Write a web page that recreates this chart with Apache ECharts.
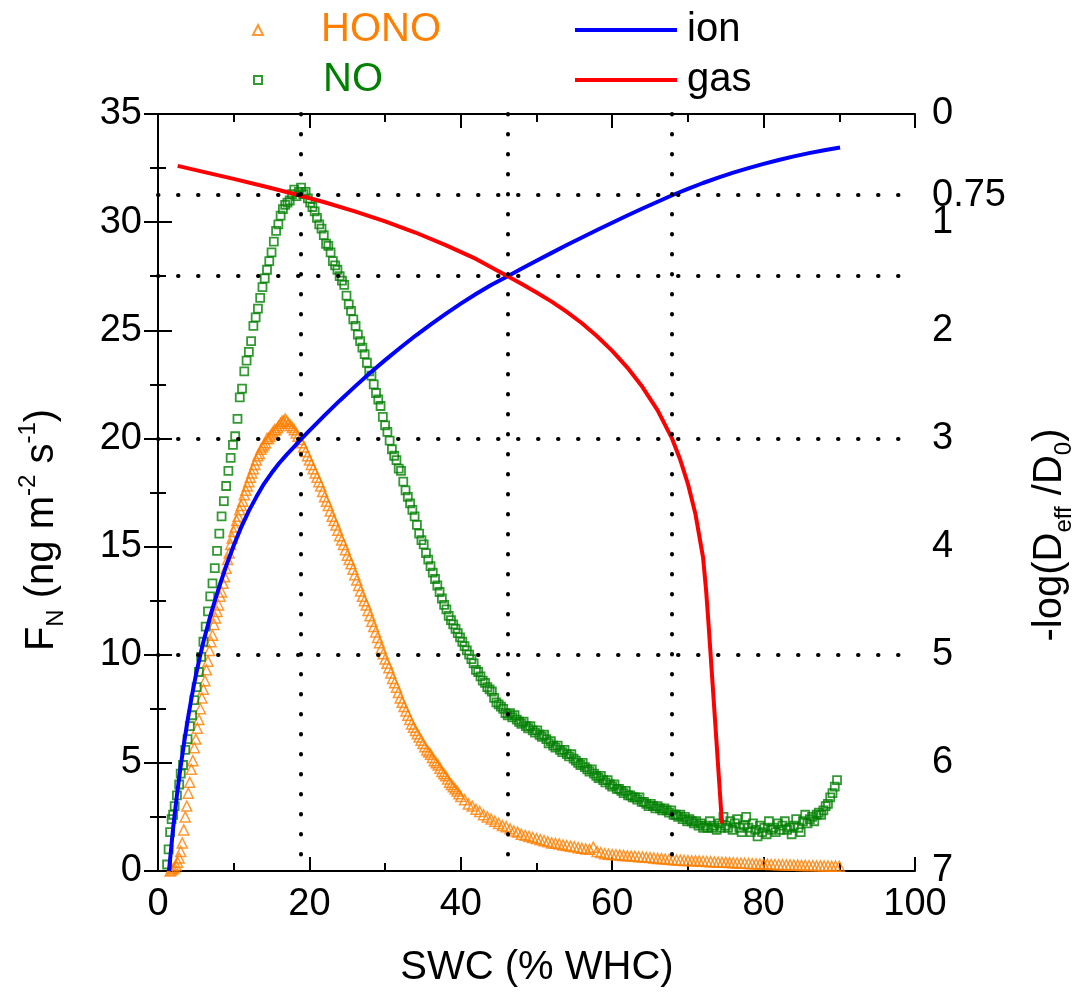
<!DOCTYPE html>
<html>
<head>
<meta charset="utf-8">
<script src="https://cdn.jsdelivr.net/npm/echarts@6/dist/echarts.min.js"></script>
<style>
html,body{margin:0;padding:0;background:#fff;}
#chart{width:1084px;height:999px;}
</style>
</head>
<body>
<div id="chart"></div>
<script>
// ---- data ----
const xTicks = [0, 20, 40, 60, 80, 100];
const leftTicks = [0, 5, 10, 15, 20, 25, 30, 35];
const rightLabels = [0, 0.75, 1, 2, 3, 4, 5, 6, 7];
const guideX = [18.8, 46.2, 67.9];
const guideRight = [0.75, 1.5, 3, 5];

// HONO flux (left axis), [SWC, F]
const hono = [
[1.6,0.0],[1.8,0.05],[2.0,0.1],[2.2,0.15],[2.4,0.25],[2.6,0.4],[2.8,0.6],[3.0,0.9],[3.2,1.3],[3.4,1.9],
[3.6,2.5],[3.8,3.0],[4.0,3.6],[4.2,4.1],[4.4,4.7],[4.6,5.1],[4.8,5.7],[5.0,6.1],[5.2,6.6],[5.4,7.0],
[5.6,7.5],[5.8,8.0],[6.0,8.4],[6.2,8.8],[6.4,9.3],[6.6,9.7],[6.8,10.2],[7.0,10.6],[7.2,10.9],[7.4,11.4],
[7.6,11.7],[7.8,12.0],[8.0,12.3],[8.2,12.7],[8.4,12.9],[8.6,13.3],[8.8,13.6],[9.0,14.0],[9.2,14.4],[9.4,14.7],
[9.6,15.1],[9.8,15.4],[10.0,15.7],[10.2,15.9],[10.4,16.2],[10.6,16.4],[10.8,16.7],[11.0,16.9],[11.2,17.1],[11.4,17.4],
[11.6,17.6],[11.8,17.8],[12.0,18.0],[12.2,18.2],[12.4,18.4],[12.6,18.6],[12.8,18.8],[13.0,19.0],[13.2,19.2],[13.4,19.3],
[13.6,19.5],[13.8,19.6],[14.0,19.7],[14.2,19.8],[14.4,20.0],[14.6,20.0],[14.8,20.1],[15.0,20.2],[15.2,20.3],[15.4,20.4],
[15.6,20.4],[15.8,20.5],[16.0,20.6],[16.2,20.7],[16.4,20.8],[16.6,20.8],[16.8,20.9],[17.0,20.8],
[17.25,20.7],[17.5,20.6],[17.75,20.5],[18.0,20.4],[18.25,20.25],[18.5,20.1],[18.75,19.95],[19.0,19.8],[19.25,19.6],[19.5,19.4],
[19.75,19.2],[20.0,19.0],[20.25,18.8],[20.5,18.6],[20.75,18.4],[21.0,18.2],[21.25,18.0],[21.5,17.8],[21.75,17.55],[22.0,17.3],
[22.25,17.1],[22.5,16.9],[22.75,16.65],[23.0,16.4],[23.25,16.2],[23.5,16.0],[23.75,15.75],[24.0,15.5],[24.25,15.3],[24.5,15.1],
[24.75,14.85],[25.0,14.6],[25.25,14.4],[25.5,14.2],[25.75,13.95],[26.0,13.7],[26.25,13.45],[26.5,13.2],[26.75,12.95],[27.0,12.7],
[27.25,12.5],[27.5,12.3],[27.75,12.05],[28.0,11.8],[28.25,11.55],[28.5,11.3],[28.75,11.05],[29.0,10.8],[29.25,10.55],[29.5,10.3],
[29.75,10.05],[30.0,9.8],[30.25,9.6],[30.5,9.4],[30.75,9.15],[31.0,8.9],[31.25,8.7],[31.5,8.5],[31.75,8.25],[32.0,8.0],
[32.25,7.8],[32.5,7.6],[32.75,7.4],[33.0,7.2],[33.25,7.0],[33.5,6.8],[33.75,6.65],[34.0,6.5],[34.25,6.35],[34.5,6.2],
[34.75,6.05],[35.0,5.9],[35.25,5.75],[35.5,5.6],[35.75,5.5],[36.0,5.4],[36.25,5.25],[36.5,5.1],[36.75,5.0],[37.0,4.9],
[37.25,4.75],[37.5,4.6],[37.75,4.5],[38.0,4.4],[38.25,4.25],[38.5,4.1],[38.75,4.0],[39.0,3.9],[39.25,3.8],[39.5,3.7],
[39.75,3.57],[40.0,3.45],
[40.5,3.3],[41.0,3.1],[41.5,3.0],[42.0,2.85],[42.5,2.75],[43.0,2.6],[43.5,2.5],[44.0,2.4],[44.5,2.3],[45.0,2.2],
[45.5,2.1],[46.0,2.05],[46.5,1.95],[47.0,1.85],[47.5,1.8],[48.0,1.7],[48.5,1.65],[49.0,1.6],[49.5,1.55],[50.0,1.5],
[50.5,1.45],[51.0,1.4],[51.5,1.35],[52.0,1.3],[52.5,1.28],[53.0,1.25],[53.5,1.2],[54.0,1.18],[54.5,1.15],[55.0,1.12],
[55.5,1.08],[56.0,1.05],[56.5,1.02],[57.0,1.0],[57.5,1.1],[58.0,0.9],[58.5,0.85],[59.0,0.8],[59.5,0.78],[60.0,0.76],
[60.5,0.75],[61.0,0.74],[61.5,0.72],[62.0,0.7],[62.5,0.69],[63.0,0.68],[63.5,0.66],[64.0,0.65],[64.5,0.63],[65.0,0.62],
[65.5,0.6],[66.0,0.58],[66.5,0.57],[67.0,0.55],[67.5,0.54],[68.0,0.52],[68.5,0.51],[69.0,0.5],[69.5,0.49],[70.0,0.48],
[70.5,0.47],[71.0,0.47],[71.5,0.46],[72.0,0.45],[72.5,0.44],[73.0,0.43],[73.5,0.42],[74.0,0.41],[74.5,0.4],[75.0,0.4],
[75.5,0.39],[76.0,0.38],[76.5,0.37],[77.0,0.36],[77.5,0.36],[78.0,0.35],[78.5,0.34],[79.0,0.33],[79.5,0.32],[80.0,0.31],
[80.5,0.31],[81.0,0.3],[81.5,0.3],[82.0,0.29],[82.5,0.29],[83.0,0.28],[83.5,0.28],[84.0,0.27],[84.5,0.27],[85.0,0.26],
[85.5,0.26],[86.0,0.25],[86.5,0.25],[87.0,0.24],[87.5,0.24],[88.0,0.23],[88.5,0.23],[89.0,0.22],[89.5,0.22],[90.0,0.22]
];

// NO flux (left axis), [SWC, F]
const no = [
[1.2,0.3],[1.4,1.0],[1.6,1.8],[1.8,2.4],[2.0,2.6],[2.2,3.0],[2.5,3.5],[2.8,4.0],[3.0,4.5],[3.3,4.9],
[3.6,5.6],[3.9,6.1],[4.2,6.7],[4.5,7.2],[4.8,7.9],[5.1,8.5],[5.4,9.2],[5.7,9.9],[6.0,10.6],[6.3,11.3],
[6.6,12.0],[6.9,12.7],[7.2,13.3],[7.5,14.0],[7.8,14.8],[8.1,15.6],[8.4,16.4],[8.7,17.1],[9.0,17.8],[9.3,18.5],
[9.6,19.1],[9.9,19.7],[10.2,20.1],[10.5,20.9],[10.8,21.9],[11.1,22.3],[11.4,23.1],[11.7,23.6],[12.0,24.0],[12.3,24.5],
[12.6,25.2],[12.9,25.6],[13.2,26.0],[13.5,26.5],[13.8,27.0],[14.1,27.4],[14.4,27.8],[14.7,28.2],[15.0,28.6],[15.3,29.1],
[15.6,29.6],[15.9,29.9],[16.2,30.3],[16.5,30.6],[16.8,30.8],[17.1,30.9],[17.4,31.0],[17.7,31.3],[18.0,31.5],[18.3,31.2],
[18.6,31.4],[18.9,31.6],[19.2,31.3],[19.5,31.4],[19.8,31.1],[20.1,30.9],[20.4,30.7],[20.7,30.5],[21.0,30.2],[21.3,29.9],
[21.6,29.7],[21.9,29.4],[22.2,29.0],[22.5,28.9],[22.8,28.6],[23.1,28.2],[23.4,28.0],[23.7,27.8],[24.0,27.5],[24.3,27.3],
[24.6,27.1],[24.9,26.6],[25.2,26.2],[25.5,25.9],[25.8,25.5],[26.1,25.2],[26.4,24.8],[26.7,24.5],[27.0,24.2],[27.3,23.9],
[27.6,23.5],[27.9,23.1],[28.2,22.9],[28.5,22.5],[28.8,22.1],[29.1,21.8],[29.4,21.5],[29.7,21.0],[30.0,20.6],[30.3,20.3],
[30.6,19.9],[30.9,19.5],[31.2,19.2],[31.5,19.0],[31.8,18.6],[32.1,18.5],[32.4,18.0],[32.7,17.6],[33.0,17.3],[33.3,17.0],
[33.6,16.7],[33.9,16.4],[34.2,16.0],[34.5,15.6],[34.8,15.3],[35.1,15.1],[35.4,14.7],[35.7,14.4],[36.0,14.1],[36.3,13.8],
[36.6,13.5],[36.9,13.2],[37.2,12.9],[37.5,12.6],[37.8,12.3],[38.1,12.1],[38.4,11.8],[38.7,11.6],[39.0,11.4],[39.3,11.2],
[39.6,11.0],[39.9,10.8],[40.2,10.6],[40.5,10.4],[40.8,10.2],[41.1,10.0],[41.4,9.8],[41.7,9.6],[42.0,9.3],[42.3,9.2],
[42.6,9.0],[42.9,8.8],[43.2,8.7],[43.5,8.5],[43.8,8.4],[44.1,8.3],[44.4,8.0],[44.7,7.8],[45.0,7.7],[45.3,7.6],
[45.6,7.5],[45.9,7.3],[46.2,7.2],[46.5,7.3],[46.8,7.1],[47.1,7.2],[47.4,7.0],[47.7,6.9],[48.0,6.8],[48.3,6.9],
[48.6,6.7],[48.9,6.6],[49.2,6.7],[49.5,6.5],[49.8,6.4],[50.1,6.5],[50.4,6.3],[50.7,6.2],[51.0,6.3],[51.3,6.1],
[51.6,5.9],[51.9,6.0],[52.2,5.8],[52.5,5.7],[52.8,5.8],[53.1,5.6],[53.4,5.5],[53.7,5.6],[54.0,5.4],[54.3,5.3],
[54.6,5.4],[54.9,5.2],[55.2,5.1],[55.5,5.0],[55.8,4.9],[56.1,5.0],[56.4,4.8],[56.7,4.7],[57.0,4.6],[57.3,4.7],
[57.6,4.5],[57.9,4.4],[58.2,4.3],[58.5,4.4],[58.8,4.2],[59.1,4.1],[59.4,4.2],[59.7,4.0],[60.0,3.9],[60.3,4.0],
[60.6,3.8],[60.9,3.8],[61.2,3.7],[61.5,3.6],[61.8,3.7],[62.1,3.5],[62.4,3.5],[62.7,3.4],[63.0,3.4],[63.3,3.3],
[63.6,3.4],[63.9,3.2],[64.2,3.2],[64.5,3.1],[64.8,3.0],[65.1,3.1],[65.4,3.0],[65.7,2.9],[66.0,3.0],[66.3,2.9],
[66.6,2.8],[66.9,2.9],[67.2,2.8],[67.5,2.7],[67.8,2.8],[68.1,2.6],[68.4,2.6],[68.7,2.5],[69.0,2.6],[69.3,2.4],
[69.6,2.5],[69.9,2.3],[70.2,2.4],[70.5,2.3],[70.8,2.2],[71.1,2.3],[71.4,2.1],[71.7,2.2],[72.0,2.0],[72.3,2.1],
[72.6,2.0],[72.9,2.3],[73.2,2.0],[73.5,2.1],[73.8,1.9],[74.1,2.2],[74.4,2.0],[74.7,2.5],[75.0,2.1],[75.3,2.0],
[75.6,2.3],[75.9,1.9],[76.2,2.2],[76.5,2.4],[76.8,2.0],[77.1,1.8],[77.4,2.1],[77.7,2.5],[78.0,2.0],[78.3,1.8],
[78.6,2.2],[78.9,1.9],[79.2,1.6],[79.5,2.1],[79.8,1.8],[80.1,2.0],[80.4,1.7],[80.7,2.3],[81.0,1.9],[81.3,2.0],
[81.6,1.8],[81.9,2.2],[82.2,1.9],[82.5,2.1],[82.8,2.3],[83.1,1.9],[83.4,2.0],[83.7,1.7],[84.0,2.1],[84.3,2.4],
[84.6,2.0],[84.9,1.8],[85.2,2.3],[85.5,2.6],[85.8,2.2],[86.1,2.4],[86.4,2.5],[86.7,2.3],[87.0,2.6],[87.3,2.7],
[87.6,2.6],[87.9,2.8],[88.2,3.0],[88.5,3.1],[88.8,3.4],[89.1,3.6],[89.4,3.9],[89.7,4.2]
];

// ion diffusion curve (right axis, -log(Deff/D0))
const ion = [
[1.45,7.0],[2,6.6],[2.5,6.3],[3,6.03],[3.5,5.79],[4,5.57],[4.5,5.37],[5,5.19],[5.5,5.03],[6,4.88],
[7,4.62],[8,4.39],[9,4.18],[10,3.99],[11,3.82],[12,3.67],[13,3.54],[14,3.42],[15,3.32],[16,3.23],
[17,3.15],[18,3.075],[19,3.0],[20,2.928],[22,2.787],[24,2.651],[26,2.521],[28,2.396],[30,2.276],[32,2.161],
[34,2.051],[36,1.947],[38,1.848],[40,1.754],[42,1.665],[44,1.581],[46.2,1.5],[48,1.432],[50,1.357],[52,1.284],
[54,1.212],[56,1.142],[58,1.073],[60,1.005],[62,0.939],[64,0.874],[66,0.811],[68,0.749],[70,0.692],[72,0.638],
[74,0.588],[76,0.542],[78,0.5],[80,0.461],[82,0.425],[84,0.392],[86,0.362],[88,0.335],[90.1,0.31]
];

// gas diffusion curve (right axis)
const gas = [
[2.6,0.48],[6,0.535],[10,0.6],[14,0.668],[18,0.74],[22,0.816],[26,0.9],[30,0.992],[34,1.096],[38,1.212],
[42,1.34],[46.2,1.5],[48,1.57],[50,1.65],[52,1.735],[54,1.83],[56,1.935],[58,2.055],[60,2.19],[62,2.345],
[64,2.525],[66,2.74],[67.9,3.0],[69,3.2],[70,3.42],[71,3.7],[72,4.1],[72.4,4.4],[72.7,4.69],[73.6,5.62],
[74.5,6.56]
];

// ---- chart ----
const FONT = '"Liberation Sans", Arial, sans-serif';
const ORANGE = '#FF8000', GREEN = '#008000', BLUE = '#0000FF', RED = '#FF0000';
const chart = echarts.init(document.getElementById('chart'), null, {renderer: 'canvas'});

const axisLineStyle = {show: true, lineStyle: {color: '#000', width: 2}};
const tickStyle = () => ({show: true, inside: true, length: 14, lineStyle: {color: '#000', width: 2}});
const minorStyle = () => ({show: true, splitNumber: 2, length: 8, lineStyle: {color: '#000', width: 2}});
const labelStyle = {color: '#000', fontSize: 38, fontFamily: FONT};

const legendBase = {
  orient: 'horizontal', selectedMode: false, padding: 0,
  textStyle: {fontSize: 40, fontFamily: FONT, color: '#000', lineHeight: 40}
};

const option = {
  animation: false,
  backgroundColor: '#fff',
  grid: {left: 158, right: 169, top: 114, bottom: 128, containLabel: false},
  legend: [
    Object.assign({}, legendBase, {left: 252, top: 10, itemWidth: 10, itemHeight: 10,
      data: [{name: 'HONO', icon: 'triangle', textStyle: {color: ORANGE, padding: [0,0,0,53]}}]}),
    Object.assign({}, legendBase, {left: 253, top: 60, itemWidth: 8, itemHeight: 8,
      data: [{name: 'NO', icon: 'rect', textStyle: {color: GREEN, padding: [0,0,0,56]}}]}),
    Object.assign({}, legendBase, {left: 573, top: 10, itemWidth: 102, itemHeight: 14,
      lineStyle: {width: 4}, itemStyle: {opacity: 0},
      data: [{name: 'ion', textStyle: {color: '#000', padding: [0,0,0,5]}}]}),
    Object.assign({}, legendBase, {left: 573, top: 60, itemWidth: 102, itemHeight: 14,
      lineStyle: {width: 4}, itemStyle: {opacity: 0},
      data: [{name: 'gas', textStyle: {color: '#000', padding: [0,0,0,5]}}]})
  ],
  xAxis: [
    {type: 'value', position: 'bottom', min: 0, max: 100, interval: 20,
     axisLine: axisLineStyle, axisTick: tickStyle(), minorTick: minorStyle(),
     splitLine: {show: false},
     axisLabel: Object.assign({}, labelStyle, {margin: 15, customValues: xTicks})},
    {type: 'value', position: 'top', min: 0, max: 100, interval: 20,
     axisLine: axisLineStyle, axisTick: tickStyle(), minorTick: minorStyle(),
     splitLine: {show: false}, axisLabel: {show: false}}
  ],
  yAxis: [
    {type: 'value', position: 'left', min: 0, max: 35, interval: 5,
     axisLine: axisLineStyle, axisTick: tickStyle(), minorTick: minorStyle(),
     splitLine: {show: false},
     axisLabel: Object.assign({}, labelStyle, {margin: 16, customValues: leftTicks})},
    {type: 'value', position: 'right', min: 0, max: 7, interval: 1, inverse: true,
     axisLine: axisLineStyle, axisTick: tickStyle(), minorTick: minorStyle(),
     splitLine: {show: false},
     axisLabel: Object.assign({}, labelStyle, {margin: 17, customValues: rightLabels,
       formatter: v => String(v)})}
  ],
  series: [
    {name: 'HONO', type: 'scatter', xAxisIndex: 0, yAxisIndex: 0, data: hono,
     symbol: 'triangle', symbolSize: 10, z: 2,
     itemStyle: {color: 'rgba(0,0,0,0)', borderColor: ORANGE, borderWidth: 1.5}},
    {name: 'NO', type: 'scatter', xAxisIndex: 0, yAxisIndex: 0, data: no,
     symbol: 'rect', symbolSize: 8, z: 3,
     itemStyle: {color: 'rgba(0,0,0,0)', borderColor: GREEN, borderWidth: 1.8}},
    {name: 'ion', type: 'line', xAxisIndex: 0, yAxisIndex: 1, data: ion,
     symbol: 'none', smooth: false, z: 4,
     lineStyle: {color: BLUE, width: 4, join: 'round'}, itemStyle: {color: BLUE}},
    {name: 'gas', type: 'line', xAxisIndex: 0, yAxisIndex: 1, data: gas,
     symbol: 'none', smooth: false, z: 5,
     lineStyle: {color: RED, width: 4, join: 'round'}, itemStyle: {color: RED},
     markLine: {
       silent: true, symbol: 'none', animation: false, z: 10,
       label: {show: false},
       lineStyle: {color: '#000', width: 4, type: [0.5, 19.5], cap: 'round'},
       emphasis: {disabled: true},
       data: guideX.map(v => ({xAxis: v})).concat(guideRight.map(v => ({yAxis: v})))
     }}
  ],
  graphic: [
    {type: 'text', x: 42, y: 530, rotation: Math.PI / 2,
     style: {
       text: '{a|F}{b|N}{a| (ng m}{c|-2}{a| s}{c|-1}{a|)}',
       align: 'center', verticalAlign: 'middle',
       rich: {
         a: {fontSize: 40, fontFamily: FONT, fill: '#000', lineHeight: 52},
         b: {fontSize: 24, fontFamily: FONT, fill: '#000', lineHeight: 52, verticalAlign: 'bottom'},
         c: {fontSize: 24, fontFamily: FONT, fill: '#000', lineHeight: 52, verticalAlign: 'top'}
       }
     }},
    {type: 'text', x: 1050, y: 535, rotation: Math.PI / 2,
     style: {
       text: '{a|-log(D}{b|eff}{a| /D}{b|0}{a|)}',
       align: 'center', verticalAlign: 'middle',
       rich: {
         a: {fontSize: 40, fontFamily: FONT, fill: '#000', lineHeight: 52},
         b: {fontSize: 24, fontFamily: FONT, fill: '#000', lineHeight: 52, verticalAlign: 'bottom'}
       }
     }},
    {type: 'text', x: 537, y: 968,
     style: {text: 'SWC (% WHC)', align: 'center', verticalAlign: 'middle',
       fontSize: 40, fontFamily: FONT, fill: '#000'}}
  ]
};
chart.setOption(option);
</script>
</body>
</html>
